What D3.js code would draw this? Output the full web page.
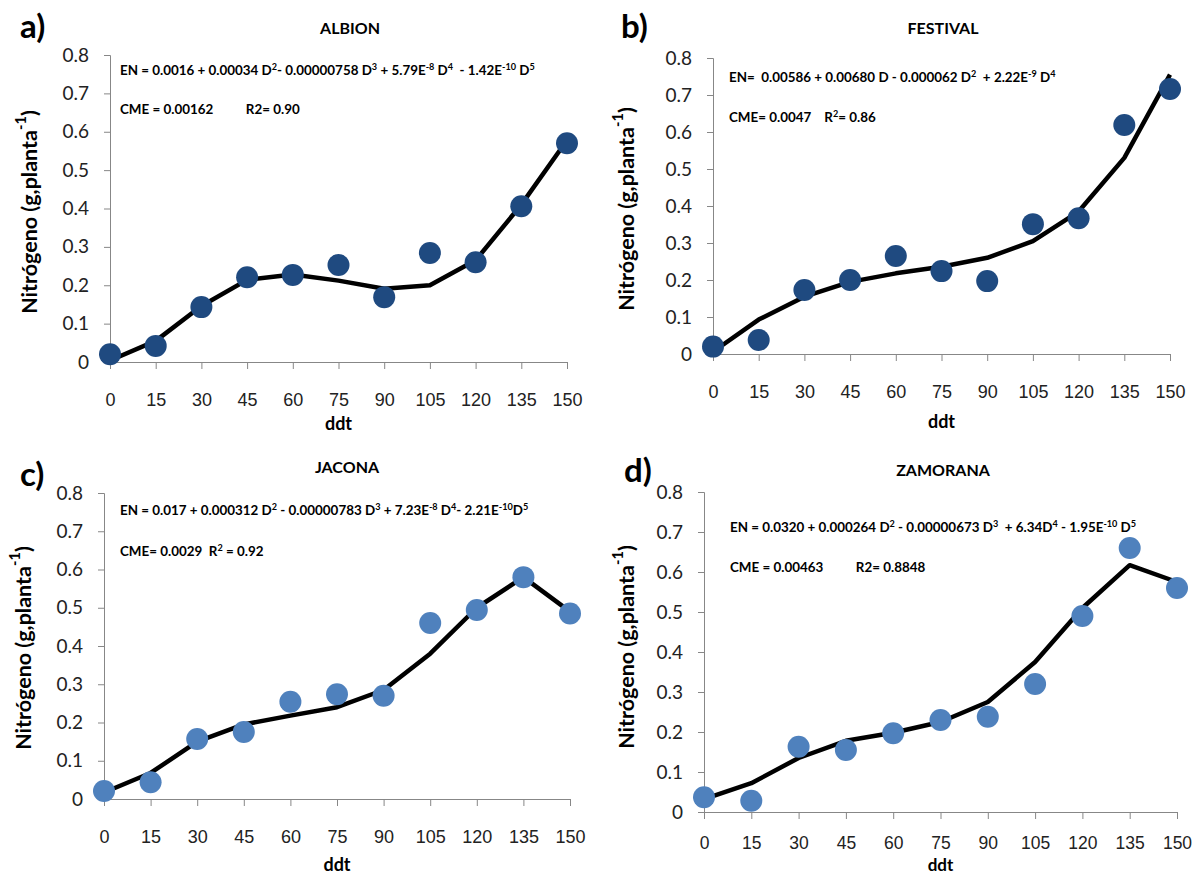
<!DOCTYPE html>
<html>
<head>
<meta charset="utf-8">
<script src="https://cdn.jsdelivr.net/npm/d3@7/dist/d3.min.js"></script>
<style>
  html, body { margin: 0; padding: 0; background: #fff; }
  svg { display: block; font-family: Lato, "Open Sans", sans-serif; }
  text { white-space: pre; }
</style>
</head>
<body>
<svg id="chart" width="1195" height="875"></svg>
<script>
// days after transplant (ddt)
const ddt = [0, 15, 30, 45, 60, 75, 90, 105, 120, 135, 150];
const yTicks = [0, 0.1, 0.2, 0.3, 0.4, 0.5, 0.6, 0.7, 0.8];

// nitrogen accumulation per plant: observed points and fitted model
const albionObs   = [0.020, 0.042, 0.143, 0.221, 0.227, 0.253, 0.169, 0.284, 0.260, 0.406, 0.570];
const albionFit   = [0.004, 0.055, 0.146, 0.214, 0.228, 0.212, 0.191, 0.200, 0.265, 0.410, 0.578];
const festivalObs = [0.020, 0.038, 0.173, 0.200, 0.265, 0.224, 0.197, 0.351, 0.367, 0.619, 0.716];
const festivalFit = [0.006, 0.093, 0.155, 0.195, 0.218, 0.236, 0.260, 0.305, 0.385, 0.530, 0.755];
const jaconaObs   = [0.021, 0.044, 0.157, 0.175, 0.254, 0.274, 0.270, 0.460, 0.494, 0.580, 0.485];
const jaconaFit   = [0.017, 0.068, 0.150, 0.195, 0.218, 0.240, 0.285, 0.380, 0.500, 0.580, 0.490];
const zamoranaObs = [0.037, 0.028, 0.163, 0.155, 0.197, 0.230, 0.238, 0.320, 0.490, 0.660, 0.560];
const zamoranaFit = [0.032, 0.072, 0.135, 0.178, 0.198, 0.225, 0.275, 0.375, 0.510, 0.617, 0.575];

const titles = ["ALBION", "FESTIVAL", "JACONA", "ZAMORANA"];
const letters = ["a)", "b)", "c)", "d)"];

// model equations as [text, superscript?] runs
const equations = [
  [["EN = 0.0016 + 0.00034 D"], ["2", 1], ["- 0.00000758 D"], ["3", 1], [" + 5.79E"], ["-8", 1], [" D"], ["4", 1], ["  - 1.42E"], ["-10", 1], [" D"], ["5", 1]],
  [["EN=  0.00586 + 0.00680 D - 0.000062 D"], ["2", 1], ["  + 2.22E"], ["-9", 1], [" D"], ["4", 1]],
  [["EN = 0.017 + 0.000312 D"], ["2", 1], [" - 0.00000783 D"], ["3", 1], [" + 7.23E"], ["-8", 1], [" D"], ["4", 1], ["- 2.21E"], ["-10", 1], ["D"], ["5", 1]],
  [["EN = 0.0320 + 0.000264 D"], ["2", 1], [" - 0.00000673 D"], ["3", 1], ["  + 6.34D"], ["4", 1], [" - 1.95E"], ["-10", 1], [" D"], ["5", 1]]
];
const fitStats = [
  [["CME = 0.00162          R2= 0.90"]],
  [["CME= 0.0047    R"], ["2", 1], ["= 0.86"]],
  [["CME= 0.0029  R"], ["2", 1], [" = 0.92"]],
  [["CME = 0.00463          R2= 0.8848"]]
];

const observed = [albionObs, festivalObs, jaconaObs, zamoranaObs];
const fitted = [albionFit, festivalFit, jaconaFit, zamoranaFit];

// layout of each panel
const panels = [
  { x0: 110, x1: 567, y0: 362, y1: 55,  color: "#1f4a80", letter: [20, 38], title: [350, 34], yTitle: [29, 212], eq: [120, 75, 114], xLab: 400, xTitle: 430, tickSize: 18, xTitleSize: 18 },
  { x0: 713, x1: 1170, y0: 354, y1: 58, color: "#1f4a80", letter: [621, 38], title: [943, 34], yTitle: [626, 209], eq: [729, 82, 122], xLab: 392, xTitle: 428, tickSize: 18, xTitleSize: 18 },
  { x0: 104, x1: 570, y0: 799, y1: 493, color: "#4f81bd", letter: [20, 486], title: [347, 473], yTitle: [23, 648], eq: [120, 515, 556], xLab: 837, xTitle: 871, tickSize: 18, xTitleSize: 18 },
  { x0: 704, x1: 1177, y0: 812, y1: 492, color: "#4f81bd", letter: [624, 482], title: [943, 476], yTitle: [626, 647], eq: [730, 532, 572], xLab: 843, xTitle: 871, tickSize: 17.5, xTitleSize: 17 }
];

const svg = d3.select("#chart");
const axisColor = "#878787";
const eqSize = 13.4;

function richText(sel, runs, size) {
  runs.forEach(r => {
    const t = sel.append("tspan").text(r[0]);
    if (r[1]) t.attr("baseline-shift", "super").attr("font-size", size * 0.68);
  });
}

panels.forEach((p, i) => {
  const g = svg.append("g");
  const x = d3.scalePoint().domain(ddt).range([p.x0, p.x1]);
  const y = d3.scaleLinear().domain([0, 0.8]).range([p.y0, p.y1]);

  // y axis
  const ya = g.append("g").attr("transform", `translate(${p.x0},0)`)
    .call(d3.axisLeft(y).tickValues(yTicks).tickSize(6).tickPadding(15).tickFormat(d => d === 0 ? "0" : d3.format(".1f")(d)));
  ya.selectAll("path, line").attr("stroke", axisColor);
  ya.selectAll("text").attr("font-size", 19).attr("fill", "#222").attr("font-family", "Lato, sans-serif");

  // x axis
  const xa = g.append("g").attr("transform", `translate(0,${p.y0})`)
    .call(d3.axisBottom(x).tickSize(7).tickSizeOuter(0).tickPadding(0));
  xa.selectAll("path, line").attr("stroke", axisColor);
  xa.selectAll("text").attr("font-size", p.tickSize).attr("fill", "#222")
    .attr("dy", null).attr("y", p.xLab - p.y0).attr("dominant-baseline", "central");

  // fitted model line
  g.append("path")
    .datum(fitted[i])
    .attr("fill", "none").attr("stroke", "#000").attr("stroke-width", 4.5)
    .attr("stroke-linejoin", "round")
    .attr("d", d3.line().x((d, k) => x(ddt[k])).y(d => y(d)));

  // observed points
  g.selectAll("circle.obs").data(observed[i]).join("circle")
    .attr("class", "obs")
    .attr("cx", (d, k) => x(ddt[k])).attr("cy", d => y(d))
    .attr("r", 11).attr("fill", p.color);

  // panel letter and title
  g.append("text").attr("x", p.letter[0]).attr("y", p.letter[1])
    .attr("font-size", 33).attr("font-weight", "bold").text(letters[i]);
  g.append("text").attr("x", p.title[0]).attr("y", p.title[1])
    .attr("text-anchor", "middle").attr("font-size", 16).attr("font-weight", "bold").text(titles[i]);

  // axis titles
  const yt = g.append("text")
    .attr("transform", `translate(${p.yTitle[0]},${p.yTitle[1]}) rotate(-90)`)
    .attr("text-anchor", "middle").attr("dominant-baseline", "central")
    .attr("font-size", 21.5).attr("font-weight", "bold");
  richText(yt, [["Nitrógeno (g,planta"], ["-1", 1], [")"]], 21.5);
  g.append("text").attr("x", (p.x0 + p.x1) / 2).attr("y", p.xTitle)
    .attr("text-anchor", "middle").attr("font-size", p.xTitleSize).attr("font-weight", "bold").text("ddt");

  // model equation and fit statistics
  const eq = g.append("text").attr("x", p.eq[0]).attr("y", p.eq[1])
    .attr("font-size", eqSize).attr("font-weight", "bold");
  richText(eq, equations[i], eqSize);
  const st = g.append("text").attr("x", p.eq[0]).attr("y", p.eq[2])
    .attr("font-size", eqSize).attr("font-weight", "bold");
  richText(st, fitStats[i], eqSize);
});
</script>
</body>
</html>
